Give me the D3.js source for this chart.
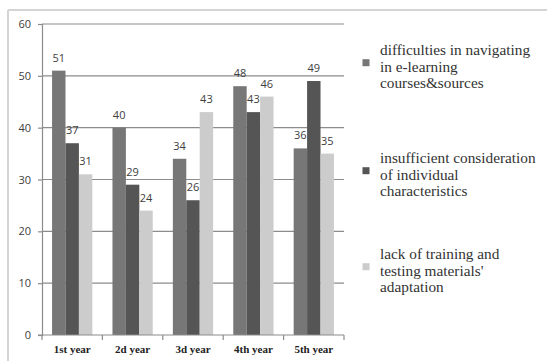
<!DOCTYPE html>
<html>
<head>
<meta charset="utf-8">
<script src="https://cdn.jsdelivr.net/npm/d3@7"></script>
<style>
  html, body { margin: 0; padding: 0; background: #fff; }
  svg { display: block; }
</style>
</head>
<body>
<svg id="chart" width="547" height="361"></svg>
<script>
// Survey results by year of study
const categories = ["1st year", "2d year", "3d year", "4th year", "5th year"];
const seriesNames = [
  ["difficulties in navigating", "in e-learning", "courses&sources"],
  ["insufficient consideration", "of individual", "characteristics"],
  ["lack of training and", "testing materials'", "adaptation"]
];
const navigating = [51, 40, 34, 48, 36];
const individual = [37, 29, 26, 43, 49];
const adaptation = [31, 24, 43, 46, 35];
const yTicks = [0, 10, 20, 30, 40, 50, 60];
const colors = ["#777777", "#555555", "#cccccc"];

const SERIF = '"Liberation Serif"';
const SANS = '"Open Sans"';

const seriesValues = [navigating, individual, adaptation];
const rows = categories.map((c, i) => ({
  cat: c,
  vals: seriesValues.map((s, k) => ({ k, v: s[i] }))
}));

const svg = d3.select("#chart");
const W = 547, H = 361;
const plot = { left: 42, right: 344, top: 24, bottom: 335 };

// outer frame (top and left edges visible)
svg.append("line").attr("x1", 8).attr("x2", W).attr("y1", 10).attr("y2", 10)
  .attr("stroke", "#d4d4d4").attr("stroke-width", 2);
svg.append("line").attr("x1", 8).attr("x2", 8).attr("y1", 10).attr("y2", H)
  .attr("stroke", "#d4d4d4").attr("stroke-width", 2);

const x = d3.scaleBand().domain(categories).range([plot.left, plot.right]).paddingInner(0).paddingOuter(0);
const y = d3.scaleLinear().domain([0, 60]).range([plot.bottom, plot.top]);
// three bars per group with 150% gap width
const edge = x.bandwidth() * 0.75 / 4.5;
const x1 = d3.scaleBand().domain([0, 1, 2]).range([edge, x.bandwidth() - edge]).padding(0);

// horizontal gridlines
svg.append("g").selectAll("line").data(yTicks.filter(t => t > 0)).join("line")
  .attr("x1", plot.left).attr("x2", plot.right)
  .attr("y1", d => y(d)).attr("y2", d => y(d))
  .attr("stroke", "#8c8c8c").attr("stroke-width", 1.2);

// bars
const groups = svg.append("g").selectAll("g").data(rows).join("g")
  .attr("transform", d => `translate(${x(d.cat)},0)`);
groups.selectAll("rect").data(d => d.vals).join("rect")
  .attr("x", d => x1(d.k)).attr("width", x1.bandwidth())
  .attr("y", d => y(d.v)).attr("height", d => y(0) - y(d.v))
  .attr("fill", d => colors[d.k]);

// value labels
groups.selectAll("text").data(d => d.vals).join("text")
  .style("font-family", SANS).style("font-size", "11px")
  .attr("x", d => x1(d.k) + x1.bandwidth() / 2)
  .attr("y", d => y(d.v) - 9)
  .attr("text-anchor", "middle")
  .attr("fill", "#404040")
  .text(d => d.v);

// y axis
const yAxis = svg.append("g").attr("transform", `translate(${plot.left},0)`)
  .call(d3.axisLeft(y).tickValues(yTicks).tickSize(4).tickPadding(7));
yAxis.select(".domain").attr("stroke", "#8c8c8c").attr("stroke-width", 1.2);
yAxis.selectAll(".tick line").attr("stroke", "#8c8c8c").attr("stroke-width", 1.2);
yAxis.selectAll(".tick text").style("font-family", SANS).style("font-size", "11px")
  .attr("fill", "#404040");

// x axis with ticks at category boundaries
const xAxis = svg.append("g").attr("transform", `translate(0,${plot.bottom})`);
xAxis.append("line").attr("x1", plot.left - 4).attr("x2", plot.right)
  .attr("stroke", "#8c8c8c").attr("stroke-width", 1.2);
const bounds = categories.map(c => x(c) + x.bandwidth()).concat([plot.left]);
xAxis.selectAll("line.tk").data(bounds).join("line").attr("class", "tk")
  .attr("x1", d => d).attr("x2", d => d).attr("y1", 0).attr("y2", 5)
  .attr("stroke", "#8c8c8c").attr("stroke-width", 1.2);
xAxis.selectAll("text").data(categories).join("text")
  .style("font-family", SERIF).style("font-size", "11px").style("font-weight", "bold")
  .attr("x", d => x(d) + x.bandwidth() / 2)
  .attr("y", 18)
  .attr("text-anchor", "middle")
  .attr("fill", "#222")
  .text(d => d);

// legend
const legendTop = [50, 158, 254];
const lineH = 16.7;
const legend = svg.append("g");
seriesNames.forEach((lines, k) => {
  const g = legend.append("g");
  const midY = legendTop[k] + lineH * (lines.length - 1) / 2;
  g.append("rect").attr("x", 362.5).attr("y", midY - 4 - 3.5).attr("width", 7).attr("height", 7)
    .attr("fill", colors[k]);
  const t = g.append("text")
    .style("font-family", SERIF).style("font-size", "15.3px")
    .attr("fill", "#333");
  lines.forEach((ln, j) => {
    t.append("tspan").attr("x", 380).attr("y", legendTop[k] + j * lineH)
      .attr("dy", "0.32em").text(ln);
  });
});
</script>
</body>
</html>
